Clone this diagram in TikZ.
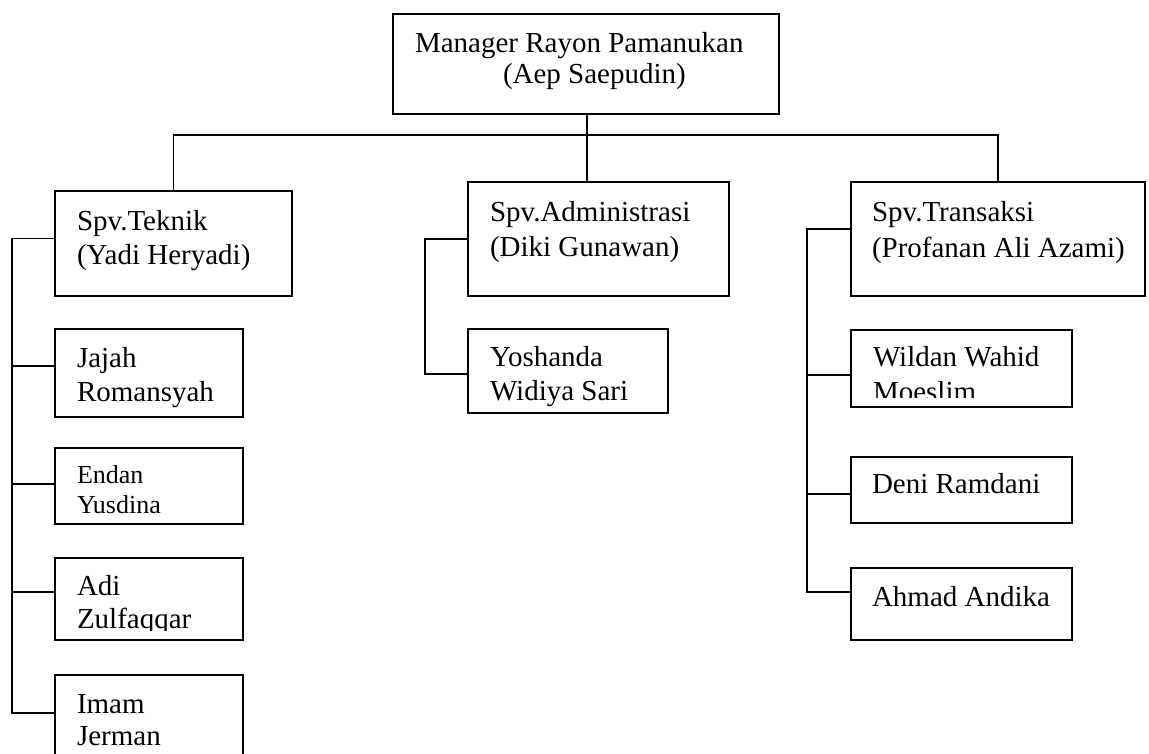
\documentclass[tikz,border=0pt]{standalone}
\usepackage{fontspec}
\setmainfont{Liberation Serif}
\begin{document}
\begin{tikzpicture}[x=1pt,y=-1pt,
  box/.style={draw, line width=1.8pt, inner sep=0pt, outer sep=0pt, anchor=north west},
  txt/.style={anchor=base west, inner sep=0pt, outer sep=0pt, font=\fontsize{29}{34}\selectfont},
  stxt/.style={txt, font=\fontsize{26}{30}\selectfont},
  link/.style={line width=1.8pt}]
\clip (0,0) rectangle (1149,753);
\fill[white] (0,0) rectangle (1149,753);
% boxes
\node[box, minimum width=386pt, minimum height=100pt] (mgr) at (393,14) {};
\node[box, minimum width=237pt, minimum height=105pt] (tek) at (55,191) {};
\node[box, minimum width=261pt, minimum height=114pt] (adm) at (468,182) {};
\node[box, minimum width=294pt, minimum height=114pt] (trs) at (851,182) {};
\node[box, minimum width=188pt, minimum height=88pt] (jaj) at (55,329) {};
\node[box, minimum width=188pt, minimum height=76pt] (end) at (55,448) {};
\node[box, minimum width=188pt, minimum height=82pt] (adi) at (55,558) {};
\node[box, minimum width=188pt, minimum height=90pt] (imm) at (55,675) {};
\node[box, minimum width=200pt, minimum height=84pt] (yos) at (468,329) {};
\node[box, minimum width=221pt, minimum height=77pt] (wil) at (851,330) {};
\node[box, minimum width=221pt, minimum height=66pt] (den) at (851,457) {};
\node[box, minimum width=221pt, minimum height=72pt] (ahm) at (851,568) {};
% connectors
\coordinate (bus) at (587,135);
\draw[link] (bus |- mgr.south) -- (bus);
\draw[link] (tek.north) |- (bus) -| (trs.north);
\draw[link] (bus |- adm.north) -- (bus);
\draw[link] ([yshift=5pt]tek.west) -- ++(-43,0) |- ([yshift=7pt]imm.west);
\foreach \n/\s in {jaj/7,end/2,adi/7}
  \draw[link] ([yshift=\s pt]\n.west) -- ++(-43,0);
\draw[link] (adm.west) -- ++(-43,0) |- ([yshift=-3pt]yos.west);
\draw[link] ([yshift=10pt]trs.west) -- ++(-44,0) |- ([yshift=12pt]ahm.west);
\foreach \n/\s in {wil/-6.5,den/-4}
  \draw[link] ([yshift=\s pt]\n.west) -- ++(-44,0);
% texts
\node[txt] (mgr1) at (415,52) {Manager Rayon Pamanukan};
\node[txt] (mgr2) at (503,83) {(Aep Saepudin)};
\node[txt] (tek1) at (77,230) {Spv.Teknik};
\node[txt] (tek2) at (77,264) {(Yadi Heryadi)};
\node[txt] (adm1) at (490,221) {Spv.Administrasi};
\node[txt] (adm2) at (490,256) {(Diki Gunawan)};
\node[txt] (trs1) at (872,221) {Spv.Transaksi};
\node[txt] (trs2) at (872,257) {(Profanan Ali Azami)};
\node[txt] (jaj1) at (77,367) {Jajah};
\node[txt] (jaj2) at (77,401) {Romansyah};
\node[stxt] (end1) at (77,483) {Endan};
\node[stxt] (end2) at (77,513) {Yusdina};
\node[txt] (adi1) at (77,595) {Adi};
\begin{scope}
\clip (55,558) rectangle (243,630);
\node[txt] (adi2) at (77,628) {Zulfaqqar};
\end{scope}
\node[txt] (imm1) at (77,713) {Imam};
\node[txt] (imm2) at (77,745) {Jerman};
\node[txt] (yos1) at (490,366) {Yoshanda};
\node[txt] (yos2) at (490,400) {Widiya Sari};
\node[txt] (wil1) at (873,366) {Wildan Wahid};
\begin{scope}
\clip (851,330) rectangle (1072,397);
\node[txt] (wil2) at (873,401) {Moeslim};
\end{scope}
\node[txt] (den1) at (872,493) {Deni Ramdani};
\node[txt] (ahm1) at (872,606) {Ahmad Andika};
\end{tikzpicture}
\end{document}
